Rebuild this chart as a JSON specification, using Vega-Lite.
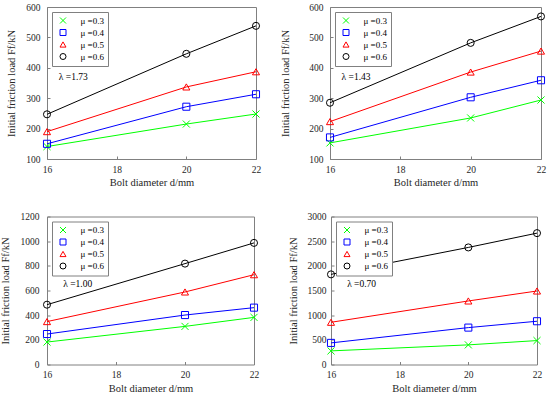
{
  "$schema": "https://vega.github.io/schema/vega-lite/v6.json",
  "padding": {"left": 0, "top": 1, "right": 0, "bottom": 0},
  "background": "white",
  "datasets": {
    "main": [
      {"p": 1, "mu": "μ =0.3", "d": 16, "F": 141}, {"p": 1, "mu": "μ =0.3", "d": 20, "F": 215}, {"p": 1, "mu": "μ =0.3", "d": 22, "F": 248},
      {"p": 1, "mu": "μ =0.4", "d": 16, "F": 150}, {"p": 1, "mu": "μ =0.4", "d": 20, "F": 272}, {"p": 1, "mu": "μ =0.4", "d": 22, "F": 313},
      {"p": 1, "mu": "μ =0.5", "d": 16, "F": 190}, {"p": 1, "mu": "μ =0.5", "d": 20, "F": 337}, {"p": 1, "mu": "μ =0.5", "d": 22, "F": 387},
      {"p": 1, "mu": "μ =0.6", "d": 16, "F": 247}, {"p": 1, "mu": "μ =0.6", "d": 20, "F": 446}, {"p": 1, "mu": "μ =0.6", "d": 22, "F": 538},
      {"p": 2, "mu": "μ =0.3", "d": 16, "F": 153}, {"p": 2, "mu": "μ =0.3", "d": 20, "F": 235}, {"p": 2, "mu": "μ =0.3", "d": 22, "F": 294},
      {"p": 2, "mu": "μ =0.4", "d": 16, "F": 171}, {"p": 2, "mu": "μ =0.4", "d": 20, "F": 303}, {"p": 2, "mu": "μ =0.4", "d": 22, "F": 359},
      {"p": 2, "mu": "μ =0.5", "d": 16, "F": 223}, {"p": 2, "mu": "μ =0.5", "d": 20, "F": 386}, {"p": 2, "mu": "μ =0.5", "d": 22, "F": 455},
      {"p": 2, "mu": "μ =0.6", "d": 16, "F": 285}, {"p": 2, "mu": "μ =0.6", "d": 20, "F": 482}, {"p": 2, "mu": "μ =0.6", "d": 22, "F": 569},
      {"p": 3, "mu": "μ =0.3", "d": 16, "F": 182}, {"p": 3, "mu": "μ =0.3", "d": 20, "F": 309}, {"p": 3, "mu": "μ =0.3", "d": 22, "F": 382},
      {"p": 3, "mu": "μ =0.4", "d": 16, "F": 247}, {"p": 3, "mu": "μ =0.4", "d": 20, "F": 401}, {"p": 3, "mu": "μ =0.4", "d": 22, "F": 461},
      {"p": 3, "mu": "μ =0.5", "d": 16, "F": 348}, {"p": 3, "mu": "μ =0.5", "d": 20, "F": 588}, {"p": 3, "mu": "μ =0.5", "d": 22, "F": 728},
      {"p": 3, "mu": "μ =0.6", "d": 16, "F": 485}, {"p": 3, "mu": "μ =0.6", "d": 20, "F": 818}, {"p": 3, "mu": "μ =0.6", "d": 22, "F": 986},
      {"p": 4, "mu": "μ =0.3", "d": 16, "F": 276}, {"p": 4, "mu": "μ =0.3", "d": 20, "F": 398}, {"p": 4, "mu": "μ =0.3", "d": 22, "F": 485},
      {"p": 4, "mu": "μ =0.4", "d": 16, "F": 438}, {"p": 4, "mu": "μ =0.4", "d": 20, "F": 748}, {"p": 4, "mu": "μ =0.4", "d": 22, "F": 877},
      {"p": 4, "mu": "μ =0.5", "d": 16, "F": 856}, {"p": 4, "mu": "μ =0.5", "d": 20, "F": 1288}, {"p": 4, "mu": "μ =0.5", "d": 22, "F": 1490},
      {"p": 4, "mu": "μ =0.6", "d": 16, "F": 1827}, {"p": 4, "mu": "μ =0.6", "d": 20, "F": 2373}, {"p": 4, "mu": "μ =0.6", "d": 22, "F": 2663}
    ],
    "lam": [
      {"p": 1, "d": 16.34, "F": 369, "t": "λ =1.73"},
      {"p": 2, "d": 16.33, "F": 369, "t": "λ =1.43"},
      {"p": 3, "d": 16.47, "F": 649, "t": "λ =1.00"},
      {"p": 4, "d": 16.47, "F": 1622, "t": "λ =0.70"}
    ]
  },
  "spacing": 21.5,
  "resolve": {"scale": {"color": "independent", "shape": "independent", "x": "independent", "y": "independent"}, "legend": {"color": "independent", "shape": "independent"}},
  "vconcat": [
    {
      "spacing": 17,
      "resolve": {"scale": {"color": "independent", "shape": "independent", "x": "independent", "y": "independent"}, "legend": {"color": "independent", "shape": "independent"}},
      "hconcat": [
        {
          "width": 209, "height": 152,
          "encoding": {
            "x": {"field": "d", "type": "quantitative", "scale": {"domain": [16, 22], "nice": false, "zero": false}, "axis": {"values": [16, 18, 20, 22], "title": "Bolt diameter d/mm", "labelPadding": 8}},
            "y": {"field": "F", "type": "quantitative", "scale": {"domain": [100, 600], "nice": false, "zero": false}, "axis": {"values": [100, 200, 300, 400, 500, 600], "format": "d", "title": "Initial friction load Ff/kN", "labelPadding": 10, "titlePadding": 9.5}}
          },
          "layer": [
            {"data": {"name": "main"}, "transform": [{"filter": "datum.p == 1"}], "mark": {"type": "line", "strokeWidth": 1},
             "encoding": {"color": {"field": "mu", "type": "nominal", "scale": {"domain": ["μ =0.3", "μ =0.4", "μ =0.5", "μ =0.6"], "range": ["#00ff00", "#0000ff", "#ff0000", "#000000"]}}}},
            {"data": {"name": "main"}, "transform": [{"filter": "datum.p == 1"}], "mark": {"type": "point", "filled": false, "size": 50, "strokeWidth": 1, "opacity": 1},
             "encoding": {
               "color": {"field": "mu", "type": "nominal", "scale": {"domain": ["μ =0.3", "μ =0.4", "μ =0.5", "μ =0.6"], "range": ["#00ff00", "#0000ff", "#ff0000", "#000000"]},
                 "legend": {"title": null, "orient": "top-left", "offset": 5, "padding": 4, "rowPadding": 1, "strokeColor": "#808080", "fillColor": "white", "labelFont": "Liberation Serif", "labelFontSize": 9, "labelColor": "#000000", "symbolSize": 36, "symbolOffset": 2.5, "labelOffset": 13, "symbolStrokeWidth": 1,
                   "encode": {"symbols": {"size": {"value": 36}, "strokeWidth": {"value": 1}, "fill": {"value": "transparent"}, "shape": {"value": {"expr": "['M-2.83,0H2.83M-1.1,-1.1L1.1,1.1M-1.1,1.1L1.1,-1.1','M-2.83,0H-1.15M1.15,0H2.83M-1.15,-1.15H1.15V1.15H-1.15Z','M-2.83,0H-0.72M0.72,0H2.83M0,-1.3L1.2,0.9H-1.2Z','M-2.83,0H-1.15M1.15,0H2.83M1.15,0A1.15,1.15,0,1,1,-1.15,0A1.15,1.15,0,1,1,1.15,0Z'][indexof(['μ =0.3','μ =0.4','μ =0.5','μ =0.6'], datum.value)]"}}}}}},
               "shape": {"field": "mu", "type": "nominal", "scale": {"domain": ["μ =0.3", "μ =0.4", "μ =0.5", "μ =0.6"], "range": ["M-1,-1L1,1M-1,1L1,-1", "square", "triangle-up", "circle"]}, "legend": null}
             }},
            {"data": {"name": "lam"}, "transform": [{"filter": "datum.p == 1"}], "mark": {"type": "text", "align": "left", "baseline": "middle", "font": "Liberation Serif", "fontSize": 9.5, "color": "#000000"},
             "encoding": {"text": {"field": "t"}}}
          ]
        },
        {
          "width": 211, "height": 152,
          "encoding": {
            "x": {"field": "d", "type": "quantitative", "scale": {"domain": [16, 22], "nice": false, "zero": false}, "axis": {"values": [16, 18, 20, 22], "title": "Bolt diameter d/mm", "labelPadding": 8}},
            "y": {"field": "F", "type": "quantitative", "scale": {"domain": [100, 600], "nice": false, "zero": false}, "axis": {"values": [100, 200, 300, 400, 500, 600], "format": "d", "title": "Initial friction load Ff/kN", "labelPadding": 10, "titlePadding": 18}}
          },
          "layer": [
            {"data": {"name": "main"}, "transform": [{"filter": "datum.p == 2"}], "mark": {"type": "line", "strokeWidth": 1},
             "encoding": {"color": {"field": "mu", "type": "nominal", "scale": {"domain": ["μ =0.3", "μ =0.4", "μ =0.5", "μ =0.6"], "range": ["#00ff00", "#0000ff", "#ff0000", "#000000"]}}}},
            {"data": {"name": "main"}, "transform": [{"filter": "datum.p == 2"}], "mark": {"type": "point", "filled": false, "size": 50, "strokeWidth": 1, "opacity": 1},
             "encoding": {
               "color": {"field": "mu", "type": "nominal", "scale": {"domain": ["μ =0.3", "μ =0.4", "μ =0.5", "μ =0.6"], "range": ["#00ff00", "#0000ff", "#ff0000", "#000000"]},
                 "legend": {"title": null, "orient": "top-left", "offset": 5, "padding": 4, "rowPadding": 1, "strokeColor": "#808080", "fillColor": "white", "labelFont": "Liberation Serif", "labelFontSize": 9, "labelColor": "#000000", "symbolSize": 36, "symbolOffset": 2.5, "labelOffset": 13, "symbolStrokeWidth": 1,
                   "encode": {"symbols": {"size": {"value": 36}, "strokeWidth": {"value": 1}, "fill": {"value": "transparent"}, "shape": {"value": {"expr": "['M-2.83,0H2.83M-1.1,-1.1L1.1,1.1M-1.1,1.1L1.1,-1.1','M-2.83,0H-1.15M1.15,0H2.83M-1.15,-1.15H1.15V1.15H-1.15Z','M-2.83,0H-0.72M0.72,0H2.83M0,-1.3L1.2,0.9H-1.2Z','M-2.83,0H-1.15M1.15,0H2.83M1.15,0A1.15,1.15,0,1,1,-1.15,0A1.15,1.15,0,1,1,1.15,0Z'][indexof(['μ =0.3','μ =0.4','μ =0.5','μ =0.6'], datum.value)]"}}}}}},
               "shape": {"field": "mu", "type": "nominal", "scale": {"domain": ["μ =0.3", "μ =0.4", "μ =0.5", "μ =0.6"], "range": ["M-1,-1L1,1M-1,1L1,-1", "square", "triangle-up", "circle"]}, "legend": null}
             }},
            {"data": {"name": "lam"}, "transform": [{"filter": "datum.p == 2"}], "mark": {"type": "text", "align": "left", "baseline": "middle", "font": "Liberation Serif", "fontSize": 9.5, "color": "#000000"},
             "encoding": {"text": {"field": "t"}}}
          ]
        }
      ]
    },
    {
      "spacing": 27,
      "resolve": {"scale": {"color": "independent", "shape": "independent", "x": "independent", "y": "independent"}, "legend": {"color": "independent", "shape": "independent"}},
      "hconcat": [
        {
          "width": 207, "height": 148,
          "encoding": {
            "x": {"field": "d", "type": "quantitative", "scale": {"domain": [16, 22], "nice": false, "zero": false}, "axis": {"values": [16, 18, 20, 22], "title": "Bolt diameter d/mm", "labelPadding": 8}},
            "y": {"field": "F", "type": "quantitative", "scale": {"domain": [0, 1200], "nice": false}, "axis": {"values": [0, 200, 400, 600, 800, 1000, 1200], "format": "d", "title": "Initial friction load Ff/kN", "labelPadding": 11, "titlePadding": 9.5}}
          },
          "layer": [
            {"data": {"name": "main"}, "transform": [{"filter": "datum.p == 3"}], "mark": {"type": "line", "strokeWidth": 1},
             "encoding": {"color": {"field": "mu", "type": "nominal", "scale": {"domain": ["μ =0.3", "μ =0.4", "μ =0.5", "μ =0.6"], "range": ["#00ff00", "#0000ff", "#ff0000", "#000000"]}}}},
            {"data": {"name": "main"}, "transform": [{"filter": "datum.p == 3"}], "mark": {"type": "point", "filled": false, "size": 50, "strokeWidth": 1, "opacity": 1},
             "encoding": {
               "color": {"field": "mu", "type": "nominal", "scale": {"domain": ["μ =0.3", "μ =0.4", "μ =0.5", "μ =0.6"], "range": ["#00ff00", "#0000ff", "#ff0000", "#000000"]},
                 "legend": {"title": null, "orient": "top-left", "offset": 5, "padding": 4, "rowPadding": 1, "strokeColor": "#808080", "fillColor": "white", "labelFont": "Liberation Serif", "labelFontSize": 9, "labelColor": "#000000", "symbolSize": 36, "symbolOffset": 2.5, "labelOffset": 13, "symbolStrokeWidth": 1,
                   "encode": {"symbols": {"size": {"value": 36}, "strokeWidth": {"value": 1}, "fill": {"value": "transparent"}, "shape": {"value": {"expr": "['M-2.83,0H2.83M-1.1,-1.1L1.1,1.1M-1.1,1.1L1.1,-1.1','M-2.83,0H-1.15M1.15,0H2.83M-1.15,-1.15H1.15V1.15H-1.15Z','M-2.83,0H-0.72M0.72,0H2.83M0,-1.3L1.2,0.9H-1.2Z','M-2.83,0H-1.15M1.15,0H2.83M1.15,0A1.15,1.15,0,1,1,-1.15,0A1.15,1.15,0,1,1,1.15,0Z'][indexof(['μ =0.3','μ =0.4','μ =0.5','μ =0.6'], datum.value)]"}}}}}},
               "shape": {"field": "mu", "type": "nominal", "scale": {"domain": ["μ =0.3", "μ =0.4", "μ =0.5", "μ =0.6"], "range": ["M-1,-1L1,1M-1,1L1,-1", "square", "triangle-up", "circle"]}, "legend": null}
             }},
            {"data": {"name": "lam"}, "transform": [{"filter": "datum.p == 3"}], "mark": {"type": "text", "align": "left", "baseline": "middle", "font": "Liberation Serif", "fontSize": 9.5, "color": "#000000"},
             "encoding": {"text": {"field": "t"}}}
          ]
        },
        {
          "width": 206, "height": 148,
          "encoding": {
            "x": {"field": "d", "type": "quantitative", "scale": {"domain": [16, 22], "nice": false, "zero": false}, "axis": {"values": [16, 18, 20, 22], "title": "Bolt diameter d/mm", "labelPadding": 8}},
            "y": {"field": "F", "type": "quantitative", "scale": {"domain": [0, 3000], "nice": false}, "axis": {"values": [0, 500, 1000, 1500, 2000, 2500, 3000], "format": "d", "title": "Initial friction load Ff/kN", "labelPadding": 8, "titlePadding": 8.5}}
          },
          "layer": [
            {"data": {"name": "main"}, "transform": [{"filter": "datum.p == 4"}], "mark": {"type": "line", "strokeWidth": 1},
             "encoding": {"color": {"field": "mu", "type": "nominal", "scale": {"domain": ["μ =0.3", "μ =0.4", "μ =0.5", "μ =0.6"], "range": ["#00ff00", "#0000ff", "#ff0000", "#000000"]}}}},
            {"data": {"name": "main"}, "transform": [{"filter": "datum.p == 4"}], "mark": {"type": "point", "filled": false, "size": 50, "strokeWidth": 1, "opacity": 1},
             "encoding": {
               "color": {"field": "mu", "type": "nominal", "scale": {"domain": ["μ =0.3", "μ =0.4", "μ =0.5", "μ =0.6"], "range": ["#00ff00", "#0000ff", "#ff0000", "#000000"]},
                 "legend": {"title": null, "orient": "top-left", "offset": 5, "padding": 4, "rowPadding": 1, "strokeColor": "#808080", "fillColor": "white", "labelFont": "Liberation Serif", "labelFontSize": 9, "labelColor": "#000000", "symbolSize": 36, "symbolOffset": 2.5, "labelOffset": 13, "symbolStrokeWidth": 1,
                   "encode": {"symbols": {"size": {"value": 36}, "strokeWidth": {"value": 1}, "fill": {"value": "transparent"}, "shape": {"value": {"expr": "['M-2.83,0H2.83M-1.1,-1.1L1.1,1.1M-1.1,1.1L1.1,-1.1','M-2.83,0H-1.15M1.15,0H2.83M-1.15,-1.15H1.15V1.15H-1.15Z','M-2.83,0H-0.72M0.72,0H2.83M0,-1.3L1.2,0.9H-1.2Z','M-2.83,0H-1.15M1.15,0H2.83M1.15,0A1.15,1.15,0,1,1,-1.15,0A1.15,1.15,0,1,1,1.15,0Z'][indexof(['μ =0.3','μ =0.4','μ =0.5','μ =0.6'], datum.value)]"}}}}}},
               "shape": {"field": "mu", "type": "nominal", "scale": {"domain": ["μ =0.3", "μ =0.4", "μ =0.5", "μ =0.6"], "range": ["M-1,-1L1,1M-1,1L1,-1", "square", "triangle-up", "circle"]}, "legend": null}
             }},
            {"data": {"name": "lam"}, "transform": [{"filter": "datum.p == 4"}], "mark": {"type": "text", "align": "left", "baseline": "middle", "font": "Liberation Serif", "fontSize": 9.5, "color": "#000000"},
             "encoding": {"text": {"field": "t"}}}
          ]
        }
      ]
    }
  ],
  "config": {
    "view": {"stroke": "#808080", "strokeWidth": 1},
    "axis": {"domain": false, "grid": false, "tickSize": -3, "tickColor": "#808080", "labelFont": "Liberation Serif", "labelFontSize": 9.5, "labelColor": "#262626", "titleFont": "Liberation Serif", "titleFontSize": 10.5, "titleFontWeight": "normal", "titleColor": "#262626", "labelFlush": false},
    "axisX": {"titlePadding": 4},
    "legend": {"strokeColor": "#808080", "strokeWidth": 1}
  }
}
